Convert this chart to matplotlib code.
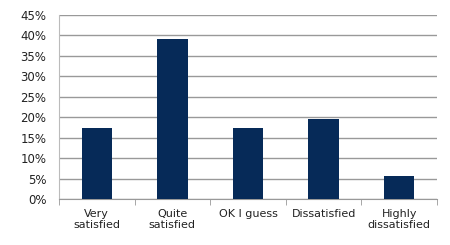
import matplotlib
matplotlib.use("Agg")
import matplotlib.pyplot as plt
from matplotlib.ticker import MultipleLocator, PercentFormatter

categories = ["Very\nsatisfied", "Quite\nsatisfied", "OK I guess", "Dissatisfied", "Highly\ndissatisfied"]
values = [17.4, 39.1, 17.4, 19.6, 5.7]

plt.rcParams['font.family'] = ['DejaVu Sans']
fig = plt.figure(figsize=(4.5, 2.45), dpi=100)
ax = fig.add_axes([59/450, 1-199/245, (437-59)/450, (199-15)/245])

x = range(len(categories))
ax.bar(x, values, width=0.4, color="#062a58", zorder=3)
ax.set_xlim(-0.5, len(categories) - 0.5)
ax.set_ylim(0, 45)
ax.yaxis.set_major_locator(MultipleLocator(5))
ax.yaxis.set_major_formatter(PercentFormatter(decimals=0))
ax.grid(axis="y", color="#999999", linewidth=1, zorder=0)
for s in ["top", "right"]:
    ax.spines[s].set_visible(False)
ax.spines["left"].set_color("#bbbbbb")
ax.spines["bottom"].set_color("#999999")
ax.set_xticks([i for i in x])
ax.set_xticklabels(categories, fontsize=8, color="#222222", linespacing=1.2)
ax.tick_params(axis="x", length=0, pad=7)
ax.set_xticks([i - 0.5 for i in range(len(categories) + 1)], minor=True)
ax.tick_params(axis="x", which="minor", length=4, color="#999999", direction="out")
ax.tick_params(axis="y", length=0, labelsize=8.5, labelcolor="#222222", pad=9)

fig.savefig("out.png", dpi=100)
